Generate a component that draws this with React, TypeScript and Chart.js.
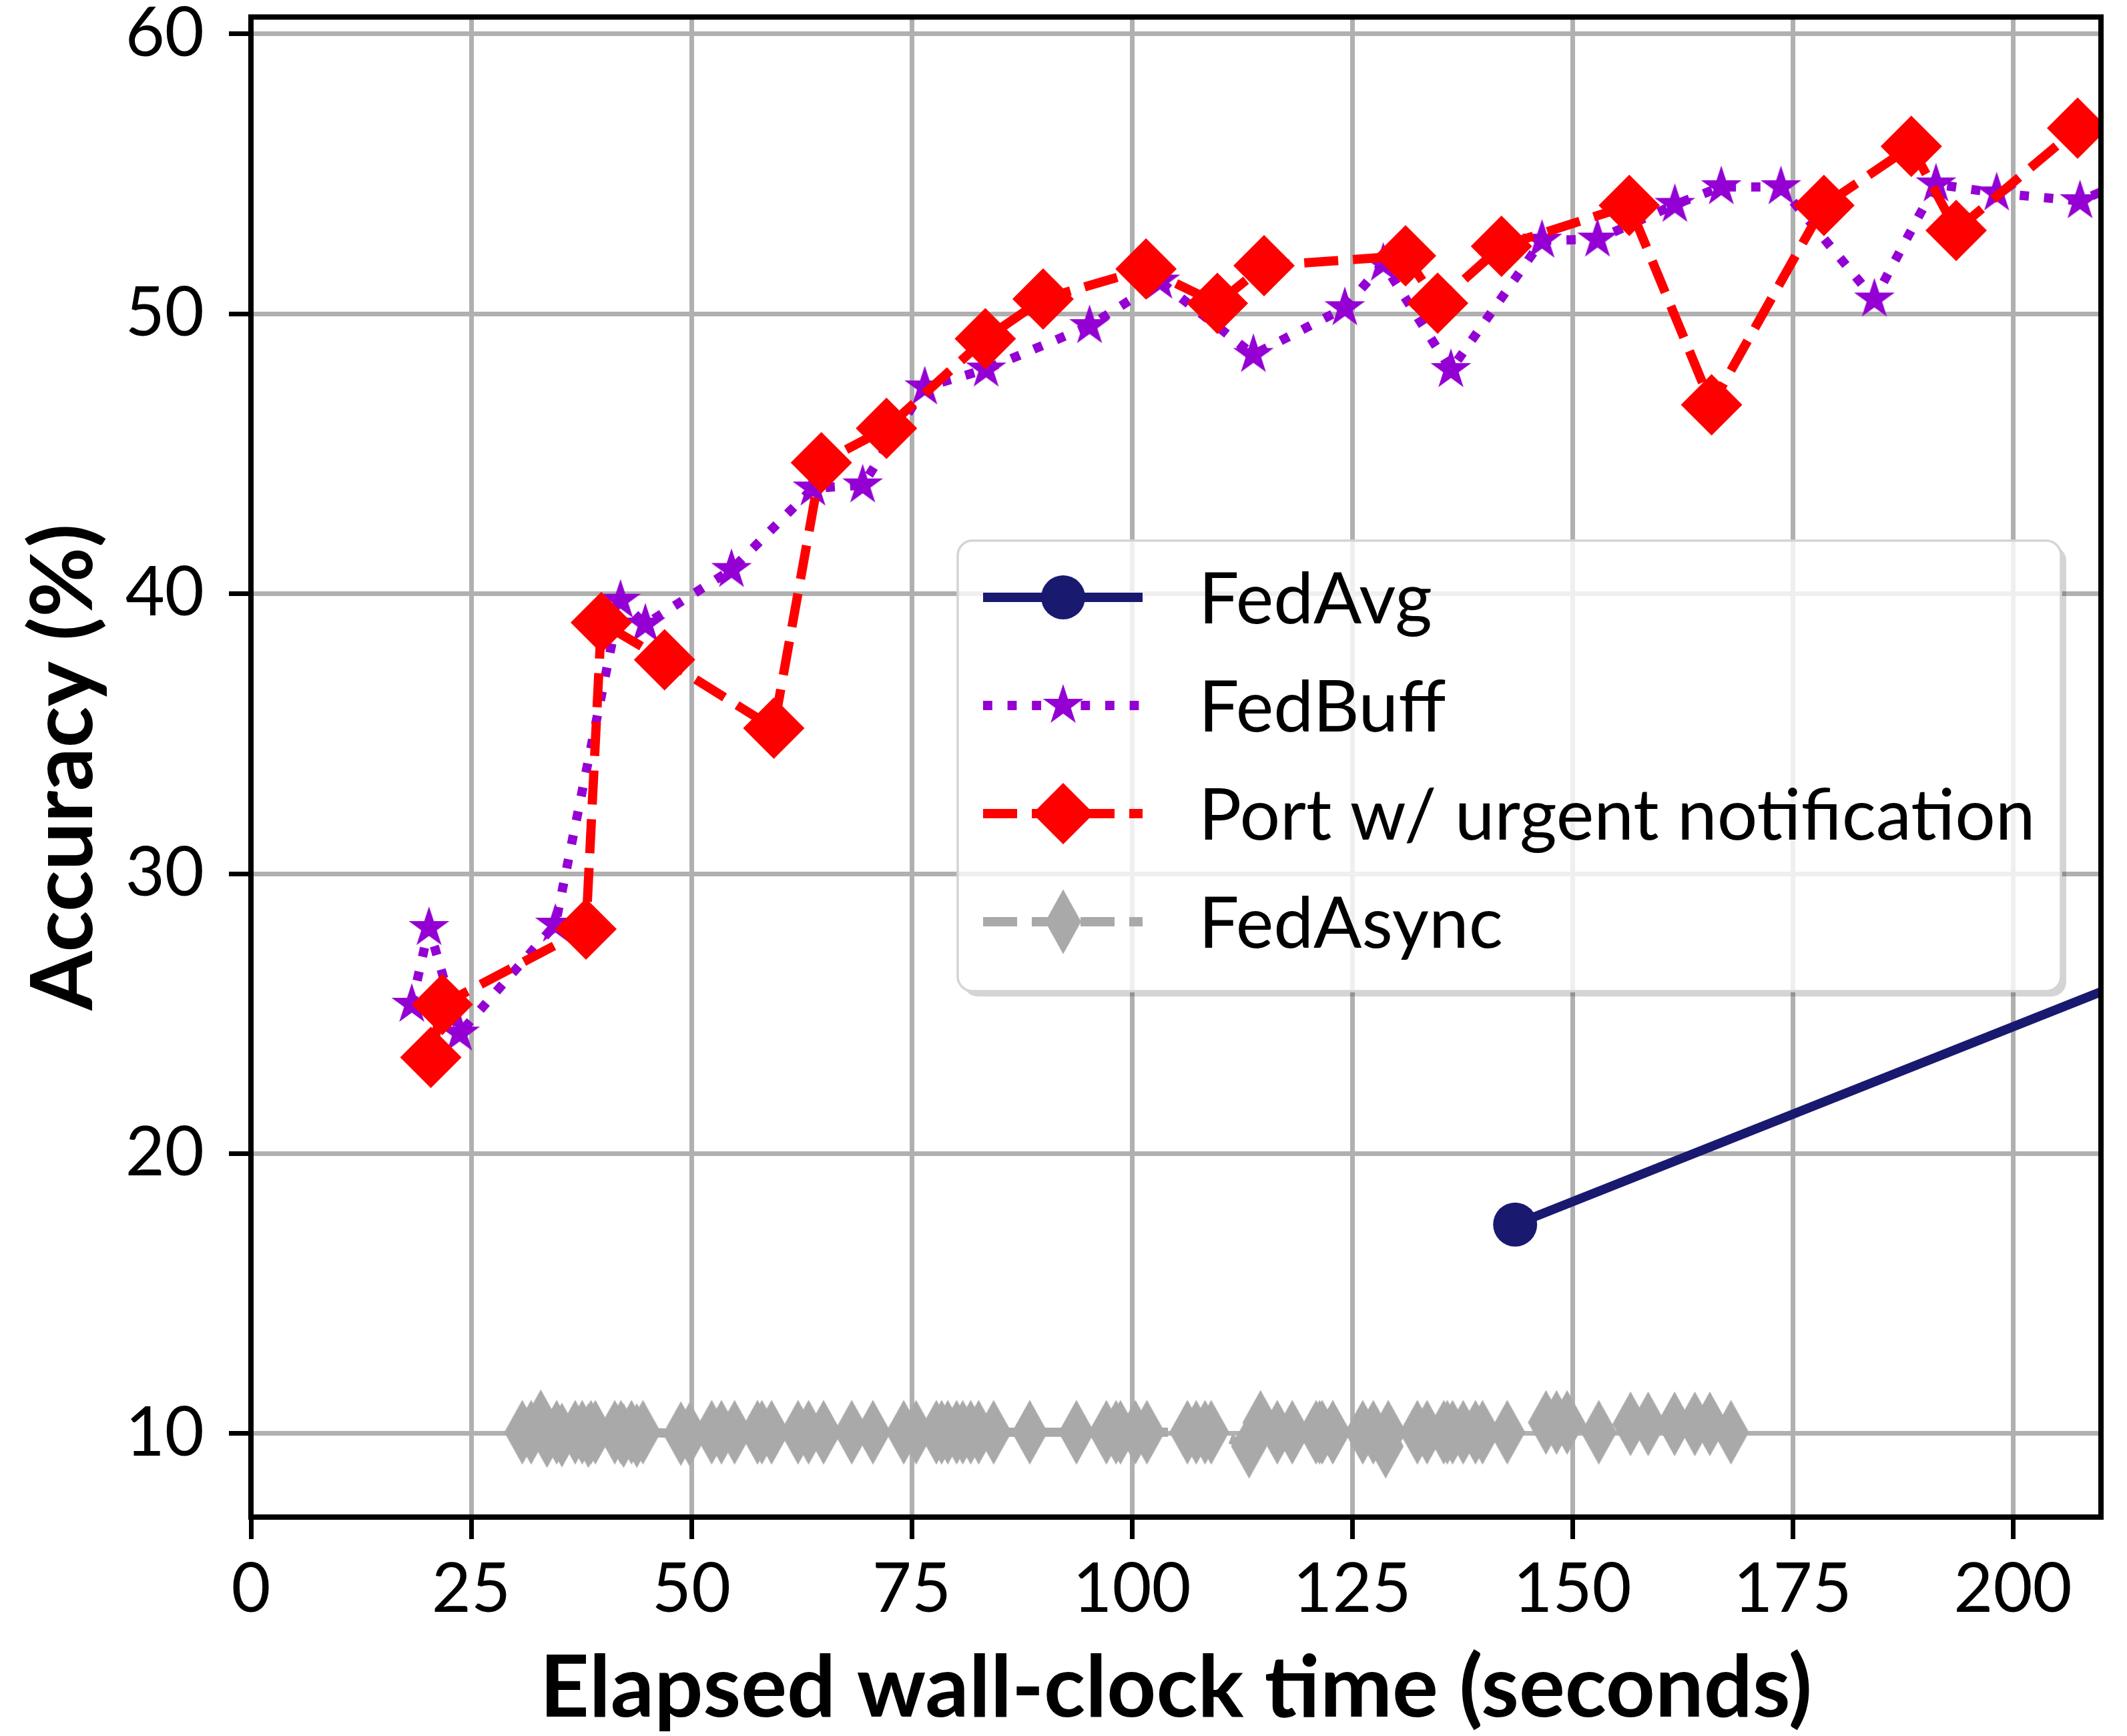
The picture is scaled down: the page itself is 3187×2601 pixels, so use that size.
import React, { useEffect, useRef } from 'react';
import { Chart, registerables } from 'chart.js';

Chart.register(...registerables);

// ---- data ----
const seriesLabels = ['FedAvg', 'FedBuff', 'Port w/ urgent notification', 'FedAsync'];

const xTickValues = [0, 25, 50, 75, 100, 125, 150, 175, 200];
const yTickValues = [10, 20, 30, 40, 50, 60];

const fedAvgTime = [143.5, 240];
const fedAvgAcc = [17.47, 29.53];

const fedBuffTime = [18.26, 20.21, 23.69, 34.56, 41.95, 44.77, 54.55, 63.79, 69.44, 76.49, 83.45, 95.19, 103.17, 113.79, 124.17, 128.53, 136.21, 146.55, 152.85, 161.63, 166.9, 173.67, 184.28, 191.27, 198.16, 207.62, 214];
const fedBuffAcc = [25.33, 28.07, 24.3, 28.19, 39.76, 38.91, 40.86, 43.77, 43.88, 47.38, 48.02, 49.57, 51.16, 48.54, 50.21, 51.8, 48.0, 52.62, 52.66, 53.9, 54.53, 54.53, 50.52, 54.63, 54.31, 54.03, 54.9];

const portTime = [20.42, 21.73, 38.03, 39.77, 46.95, 59.35, 64.75, 72.14, 83.36, 89.92, 101.6, 109.7, 115.0, 131.06, 134.7, 141.95, 156.46, 165.8, 178.55, 188.47, 193.56, 207.35];
const portAcc = [23.44, 25.33, 28.02, 38.97, 37.64, 35.2, 44.68, 45.91, 49.11, 50.53, 51.6, 50.37, 51.72, 52.07, 50.38, 52.41, 53.87, 46.75, 53.87, 55.98, 52.98, 56.63];

const fedAsyncTime = [30.8, 31.8, 32.9, 33.6, 34.7, 35.3, 36.8, 37.6, 38.3, 38.6, 39.1, 41.3, 42.0, 42.3, 43.2, 43.8, 44.5, 48.8, 49.8, 52.3, 53.4, 54.9, 57.5, 58.0, 59.1, 62.1, 63.3, 65.0, 68.2, 70.6, 74.1, 75.5, 77.8, 78.4, 79.1, 80.1, 80.8, 81.7, 82.6, 84.3, 88.4, 93.7, 97.1, 98.2, 98.7, 100.4, 101.7, 106.3, 107.3, 108.3, 109.0, 113.3, 114.6, 116.5, 118.2, 120.9, 121.3, 121.6, 122.8, 126.2, 127.4, 128.8, 129.1, 132.4, 133.5, 135.4, 135.8, 136.4, 137.6, 139.0, 139.8, 142.6, 147.0, 148.2, 149.4, 153.0, 156.6, 158.6, 161.6, 163.9, 165.6, 168.0];
const fedAsyncAcc = [10.05, 10.05, 10.42, 9.93, 10.05, 9.95, 10.05, 10.05, 9.93, 10.05, 10.05, 10.05, 10.05, 9.93, 10.05, 9.93, 10.05, 10.0, 9.98, 10.05, 10.05, 10.05, 10.05, 10.05, 10.05, 10.05, 10.05, 10.05, 10.05, 10.05, 10.05, 10.05, 10.05, 10.05, 10.05, 10.05, 10.05, 10.05, 10.05, 10.05, 10.05, 10.05, 10.05, 10.05, 10.05, 10.05, 10.05, 10.05, 10.05, 10.05, 10.05, 9.55, 10.4, 10.05, 10.05, 10.05, 10.05, 10.05, 10.05, 10.05, 10.05, 9.55, 10.05, 10.05, 10.05, 10.05, 10.05, 10.05, 10.05, 10.05, 10.05, 10.05, 10.4, 10.4, 10.4, 10.05, 10.35, 10.35, 10.35, 10.35, 10.35, 10.05];

const zip = (xs: number[], ys: number[]) => xs.map((x, i) => ({ x, y: ys[i] }));

// ---- marker images ----
function makeStar(R: number, color: string): HTMLCanvasElement {
  const c = document.createElement('canvas');
  const size = Math.ceil(2 * R + 4);
  c.width = size;
  c.height = size;
  const ctx = c.getContext('2d')!;
  const cx = size / 2, cy = size / 2;
  ctx.beginPath();
  for (let i = 0; i < 10; i++) {
    const r = i % 2 === 0 ? R : R * 0.381966;
    const a = -Math.PI / 2 + (i * Math.PI) / 5;
    const px = cx + r * Math.cos(a), py = cy + r * Math.sin(a);
    if (i === 0) ctx.moveTo(px, py); else ctx.lineTo(px, py);
  }
  ctx.closePath();
  ctx.fillStyle = color;
  ctx.fill();
  return c;
}

function makeThinDiamond(hw: number, hh: number, color: string): HTMLCanvasElement {
  const c = document.createElement('canvas');
  c.width = Math.ceil(2 * hw + 2);
  c.height = Math.ceil(2 * hh + 2);
  const ctx = c.getContext('2d')!;
  const cx = c.width / 2, cy = c.height / 2;
  ctx.beginPath();
  ctx.moveTo(cx, cy - hh);
  ctx.lineTo(cx + hw, cy);
  ctx.lineTo(cx, cy + hh);
  ctx.lineTo(cx - hw, cy);
  ctx.closePath();
  ctx.fillStyle = color;
  ctx.fill();
  return c;
}

function roundRectPath(ctx: CanvasRenderingContext2D, x: number, y: number, w: number, h: number, r: number) {
  ctx.moveTo(x + r, y);
  ctx.lineTo(x + w - r, y);
  ctx.arcTo(x + w, y, x + w, y + r, r);
  ctx.lineTo(x + w, y + h - r);
  ctx.arcTo(x + w, y + h, x + w - r, y + h, r);
  ctx.lineTo(x + r, y + h);
  ctx.arcTo(x, y + h, x, y + h - r, r);
  ctx.lineTo(x, y + r);
  ctx.arcTo(x, y, x + r, y, r);
  ctx.closePath();
}

const framePlugin = {
  id: 'frame',
  afterDatasetsDraw(chart: any) {
    const { ctx, chartArea: a } = chart;
    ctx.save();
    ctx.strokeStyle = '#000';
    ctx.lineWidth = 8;
    ctx.strokeRect(a.left, a.top, a.right - a.left, a.bottom - a.top);
    ctx.restore();
  },
};

const legendPlugin = {
  id: 'boxLegend',
  afterDraw(chart: any) {
    const ctx: CanvasRenderingContext2D = chart.ctx;
    const L = 1435, T = 810, R = 3088, B = 1485, rad = 22, sh = 8;
    ctx.save();
    // shadow (only outside the box)
    ctx.save();
    ctx.beginPath();
    ctx.rect(0, 0, chart.width, chart.height);
    roundRectPath(ctx, L, T, R - L, B - T, rad);
    ctx.clip('evenodd');
    ctx.beginPath();
    roundRectPath(ctx, L + sh, T + sh, R - L, B - T, rad);
    ctx.fillStyle = 'rgba(0,0,0,0.17)';
    ctx.fill();
    ctx.restore();
    // box
    ctx.beginPath();
    roundRectPath(ctx, L, T, R - L, B - T, rad);
    ctx.fillStyle = 'rgba(255,255,255,0.8)';
    ctx.fill();
    ctx.lineWidth = 3.5;
    ctx.strokeStyle = '#d4d4d4';
    ctx.stroke();

    const order = [0, 1, 2, 3];
    order.forEach((di, i) => {
      const ds = chart.data.datasets[di];
      const y = 895 + i * 162;
      ctx.save();
      ctx.beginPath();
      ctx.setLineDash(ds.borderDash || []);
      ctx.lineCap = 'butt';
      ctx.lineWidth = ds.borderWidth;
      ctx.strokeStyle = ds.borderColor;
      ctx.moveTo(1473, y);
      ctx.lineTo(1712, y);
      ctx.stroke();
      ctx.setLineDash([]);
      const mx = 1593;
      const ps = ds.pointStyle;
      ctx.fillStyle = ds.pointBackgroundColor;
      if (ps && typeof ps === 'object') {
        ctx.drawImage(ps, mx - ps.width / 2, y - ps.height / 2);
      } else if (ps === 'rectRot') {
        const r = ds.pointRadius;
        ctx.beginPath();
        ctx.moveTo(mx - r, y);
        ctx.lineTo(mx, y - r);
        ctx.lineTo(mx + r, y);
        ctx.lineTo(mx, y + r);
        ctx.closePath();
        ctx.fill();
      } else {
        ctx.beginPath();
        ctx.arc(mx, y, ds.pointRadius, 0, Math.PI * 2);
        ctx.fill();
      }
      ctx.fillStyle = '#000';
      ctx.font = '107px Lato';
      ctx.textBaseline = 'alphabetic';
      ctx.textAlign = 'left';
      ctx.fillText(ds.label, 1796, y + 39);
      ctx.restore();
    });
    ctx.restore();
  },
};

export default function App() {
  const ref = useRef<HTMLCanvasElement | null>(null);

  useEffect(() => {
    if (!ref.current) return;
    const star = makeStar(32, '#9400d3');
    const thin = makeThinDiamond(27, 48.5, '#a9a9a9');
    const LW = 13.8;

    const chart = new Chart(ref.current, {
      type: 'line',
      data: {
        datasets: [
          {
            label: seriesLabels[0],
            data: zip(fedAvgTime, fedAvgAcc),
            borderColor: '#191970',
            backgroundColor: '#191970',
            pointBackgroundColor: '#191970',
            borderWidth: LW,
            pointRadius: 33,
            pointBorderWidth: 0,
            pointStyle: 'circle',
            tension: 0,
            clip: 0,
            order: 2,
          } as any,
          {
            label: seriesLabels[1],
            data: zip(fedBuffTime, fedBuffAcc),
            borderColor: '#9400d3',
            backgroundColor: '#9400d3',
            pointBackgroundColor: '#9400d3',
            borderWidth: LW,
            borderDash: [LW, 22.8],
            borderCapStyle: 'butt',
            pointRadius: 30,
            pointBorderWidth: 0,
            pointStyle: star,
            tension: 0,
            clip: 0,
            order: 1,
          } as any,
          {
            label: seriesLabels[2],
            data: zip(portTime, portAcc),
            borderColor: '#ff0000',
            backgroundColor: '#ff0000',
            pointBackgroundColor: '#ff0000',
            borderWidth: LW,
            borderDash: [51, 22],
            borderCapStyle: 'butt',
            pointRadius: 46,
            pointBorderWidth: 0,
            pointStyle: 'rectRot',
            tension: 0,
            clip: 0,
            order: 0,
          } as any,
          {
            label: seriesLabels[3],
            data: zip(fedAsyncTime, fedAsyncAcc),
            borderColor: '#a9a9a9',
            backgroundColor: '#a9a9a9',
            pointBackgroundColor: '#a9a9a9',
            borderWidth: LW,
            borderDash: [51, 22],
            borderCapStyle: 'butt',
            pointRadius: 40,
            pointBorderWidth: 0,
            pointStyle: thin,
            tension: 0,
            clip: 0,
            order: 3,
          } as any,
        ],
      },
      options: {
        animation: false,
        responsive: false,
        devicePixelRatio: 1,
        events: [],
        layout: { autoPadding: false, padding: { top: 25.5, right: 39, left: 0, bottom: 0 } },
        plugins: { legend: { display: false }, tooltip: { enabled: false } },
        scales: {
          x: {
            type: 'linear',
            min: 0,
            max: 210,
            afterBuildTicks: (s: any) => {
              s.ticks = xTickValues.map((v) => ({ value: v }));
            },
            afterFit: (s: any) => {
              s.height = 2601 - 2273;
              s.paddingLeft = 0;
              s.paddingRight = 0;
            },
            grid: { color: '#b0b0b0', lineWidth: 7, tickColor: '#000', tickWidth: 7, tickLength: 33, drawTicks: true },
            border: { display: false },
            ticks: { color: '#000', font: { family: 'Lato', size: 102 }, padding: 15, maxRotation: 0, autoSkip: false },
            title: {
              display: true,
              text: 'Elapsed wall-clock time (seconds)',
              color: '#000',
              font: { family: 'Lato', size: 129, weight: 'bold', lineHeight: 1.1 },
              padding: { top: 0, bottom: 0 },
            },
          },
          y: {
            type: 'linear',
            min: 7.02,
            max: 60.6,
            afterBuildTicks: (s: any) => {
              s.ticks = yTickValues.map((v) => ({ value: v }));
            },
            afterFit: (s: any) => {
              s.width = 376;
              s.paddingTop = 0;
              s.paddingBottom = 0;
            },
            grid: { color: '#b0b0b0', lineWidth: 7, tickColor: '#000', tickWidth: 7, tickLength: 33, drawTicks: true },
            border: { display: false },
            ticks: { color: '#000', font: { family: 'Lato', size: 102 }, padding: 37 },
            title: {
              display: true,
              text: 'Accuracy (%)',
              color: '#000',
              font: { family: 'Lato', size: 128, weight: 'bold', lineHeight: 1.1 },
              padding: { top: 26, bottom: 0 },
            },
          },
        },
      } as any,
      plugins: [framePlugin, legendPlugin],
    });
    return () => chart.destroy();
  }, []);

  return (
    <div style={{ position: 'fixed', left: 0, top: 0, width: 3187, height: 2601, background: '#fff' }}>
      <canvas ref={ref} width={3187} height={2601} style={{ display: 'block' }} />
    </div>
  );
}
